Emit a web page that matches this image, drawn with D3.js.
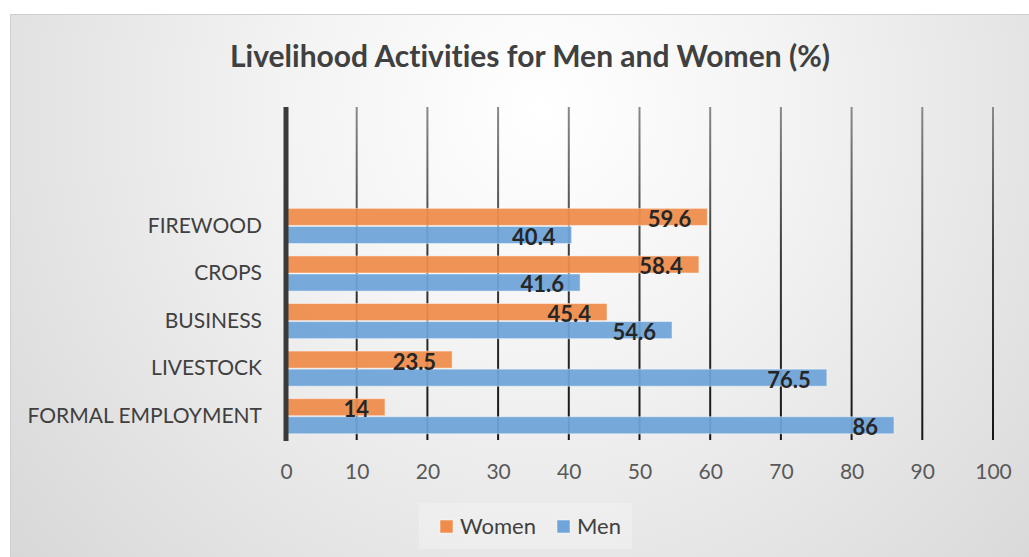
<!DOCTYPE html>
<html>
<head>
<meta charset="utf-8">
<script src="https://cdn.jsdelivr.net/npm/d3@7"></script>
<style>
  html, body { margin: 0; padding: 0; background: #ffffff; }
  svg { display: block; }
  text { font-family: Lato, "Open Sans", sans-serif; font-variant-ligatures: none; }
</style>
</head>
<body>
<svg id="chart" width="1029" height="557"></svg>
<script>
// Livelihood activities, share of men and women (%)
const title = "Livelihood Activities for Men and Women (%)";
const categories = ["FIREWOOD", "CROPS", "BUSINESS", "LIVESTOCK", "FORMAL EMPLOYMENT"];
const women = [59.6, 58.4, 45.4, 23.5, 14];
const men = [40.4, 41.6, 54.6, 76.5, 86];
const seriesNames = ["Women", "Men"];
const xTicks = [0, 10, 20, 30, 40, 50, 60, 70, 80, 90, 100];
// two empty rows sit above the data rows in the category axis
const emptyRows = ["", " "];

const colors = { Women: "#EF8C4C", Men: "#6FA5D8" };

const W = 1029, H = 557;
const svg = d3.select("#chart");
const defs = svg.append("defs");

// chart area background
const bg = defs.append("radialGradient")
  .attr("id", "bgGrad")
  .attr("gradientUnits", "userSpaceOnUse")
  .attr("cx", 540).attr("cy", 110).attr("r", 720);
bg.append("stop").attr("offset", "0").attr("stop-color", "#ffffff");
bg.append("stop").attr("offset", "0.35").attr("stop-color", "#f3f3f3");
bg.append("stop").attr("offset", "1").attr("stop-color", "#d6d6d6");

const plot = { left: 286, right: 993, top: 107, bottom: 440 };

const gridGrad = defs.append("linearGradient")
  .attr("id", "gridGrad")
  .attr("gradientUnits", "userSpaceOnUse")
  .attr("x1", 0).attr("x2", 0).attr("y1", plot.top).attr("y2", plot.bottom);
gridGrad.append("stop").attr("offset", "0").attr("stop-color", "#8a8a8a");
gridGrad.append("stop").attr("offset", "0.45").attr("stop-color", "#3a3a3a");
gridGrad.append("stop").attr("offset", "1").attr("stop-color", "#151515");

svg.append("rect")
  .attr("x", 10.5).attr("y", 14.5)
  .attr("width", W - 10).attr("height", H - 14)
  .attr("fill", "url(#bgGrad)")
  .attr("stroke", "#cfcfcf").attr("stroke-width", 1);

// title
svg.append("text")
  .attr("x", 530).attr("y", 67)
  .attr("text-anchor", "middle")
  .attr("font-size", 30).attr("font-weight", 700)
  .attr("fill", "#404040")
  .text(title);

// scales
const x = d3.scaleLinear().domain([0, 100]).range([plot.left, plot.right]);
const y = d3.scaleBand()
  .domain(emptyRows.concat(categories))
  .range([plot.top, plot.bottom])
  .paddingInner(0.24).paddingOuter(0.12);
const ySub = d3.scaleBand().domain(seriesNames).range([0, y.bandwidth()]);

// vertical gridlines
svg.append("g")
  .selectAll("line")
  .data(xTicks.filter(t => t > 0))
  .join("line")
  .attr("x1", d => x(d)).attr("x2", d => x(d))
  .attr("y1", plot.top).attr("y2", plot.bottom)
  .attr("stroke", "url(#gridGrad)")
  .attr("stroke-width", 2);

// x axis tick labels
const xAxis = d3.axisBottom(x).tickValues(xTicks).tickSize(0).tickPadding(0);
const gx = svg.append("g")
  .attr("transform", `translate(0,${plot.bottom + 39})`)
  .call(xAxis);
gx.select(".domain").remove();
gx.selectAll("text")
  .attr("font-family", "Lato, 'Open Sans', sans-serif")
  .attr("font-size", 21)
  .attr("fill", "#595959")
  .attr("dy", 0);

// bars
const rows = categories.map((c, i) => ({ category: c, Women: women[i], Men: men[i] }));
const groups = svg.append("g")
  .selectAll("g")
  .data(rows)
  .join("g")
  .attr("transform", d => `translate(0,${y(d.category)})`);

groups.selectAll("rect")
  .data(d => seriesNames.map(s => ({ series: s, value: d[s] })))
  .join("rect")
  .attr("x", x(0))
  .attr("y", d => ySub(d.series) + 0.5)
  .attr("width", d => x(d.value) - x(0))
  .attr("height", ySub.bandwidth() - 1)
  .attr("fill", d => colors[d.series])
  .attr("fill-opacity", 0.94)
  .attr("stroke", "#ffffff")
  .attr("stroke-opacity", 0.45)
  .attr("stroke-width", 1);

groups.selectAll("text.value")
  .data(d => seriesNames.map(s => ({ series: s, value: d[s] })))
  .join("text")
  .attr("class", "value")
  .attr("x", d => x(d.value) - 16)
  .attr("y", d => ySub(d.series) + ySub.bandwidth() / 2 + 2)
  .attr("dy", "0.36em")
  .attr("text-anchor", "end")
  .attr("font-size", 22).attr("font-weight", 700)
  .attr("fill", "#262626")
  .text(d => d.value);

// category axis
const yAxis = d3.axisLeft(y).tickValues(categories).tickSize(0).tickPadding(24);
const gy = svg.append("g")
  .attr("transform", `translate(${plot.left},0)`)
  .call(yAxis);
gy.select(".domain").remove();
gy.selectAll("text")
  .attr("font-family", "Lato, 'Open Sans', sans-serif")
  .attr("font-size", 21)
  .attr("fill", "#404040");

// value axis line
svg.append("line")
  .attr("x1", x(0)).attr("x2", x(0))
  .attr("y1", plot.top).attr("y2", plot.bottom + 1)
  .attr("stroke", "#3a3a3a")
  .attr("stroke-width", 5);

// legend
const legend = svg.append("g");
legend.append("rect")
  .attr("x", 419).attr("y", 503).attr("width", 213).attr("height", 46)
  .attr("fill", "#ffffff").attr("fill-opacity", 0.25);
const legendX = [440, 557];
const items = legend.selectAll("g")
  .data(seriesNames)
  .join("g")
  .attr("transform", (d, i) => `translate(${legendX[i]},520)`);
items.append("rect")
  .attr("width", 13).attr("height", 13)
  .attr("fill", d => colors[d])
  .attr("stroke", "#ffffff").attr("stroke-opacity", 0.5);
items.append("text")
  .attr("x", 20).attr("y", 6.5).attr("dy", "0.36em")
  .attr("font-size", 22)
  .attr("fill", "#404040")
  .text(d => d);
</script>
</body>
</html>
